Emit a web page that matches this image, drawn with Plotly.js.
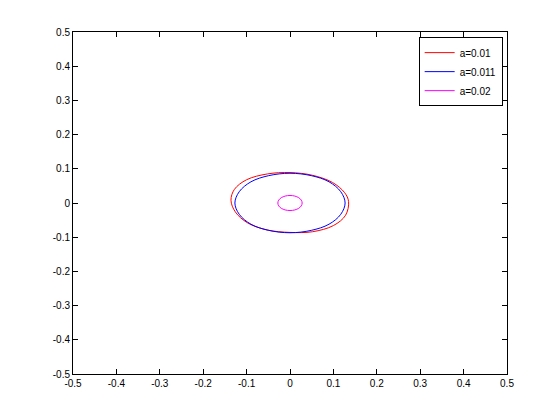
<!DOCTYPE html>
<html>
<head>
<meta charset="utf-8">
<script src="https://cdn.plot.ly/plotly-3.0.1.min.js"></script>
<style>
  body { margin: 0; background: #fff; }
  #plot { width: 560px; height: 420px; }
</style>
</head>
<body>
<div id="plot"></div>
<script>
// curves, one closed loop per value of a
let names = ["a=0.01", "a=0.011", "a=0.02"];
let colors = ["#ff0000", "#0000ff", "#ff00ff"];

let redX = [0.135, 0.126, 0.098, 0.052, 0, -0.052, -0.100, -0.128, -0.136, -0.126, -0.098, -0.052, 0, 0.052, 0.100, 0.128, 0.135];
let redY = [0.004, 0.030, 0.060, 0.081, 0.089, 0.085, 0.068, 0.040, 0.008, -0.026, -0.058, -0.079, -0.086, -0.084, -0.066, -0.036, 0.004];

let blueX = [0.127, 0.117, 0.090, 0.049, 0, -0.049, -0.090, -0.117, -0.127, -0.117, -0.090, -0.049, 0, 0.049, 0.090, 0.117, 0.127];
let blueY = [0, 0.033, 0.062, 0.080, 0.087, 0.080, 0.062, 0.033, 0, -0.033, -0.062, -0.080, -0.087, -0.080, -0.062, -0.033, 0];

let magX = [0.028, 0.026, 0.020, 0.011, 0, -0.011, -0.020, -0.026, -0.028, -0.026, -0.020, -0.011, 0, 0.011, 0.020, 0.026, 0.028];
let magY = [0, 0.0085, 0.0156, 0.0203, 0.022, 0.0203, 0.0156, 0.0085, 0, -0.0085, -0.0156, -0.0203, -0.022, -0.0203, -0.0156, -0.0085, 0];

let tickVals = [-0.5, -0.4, -0.3, -0.2, -0.1, 0, 0.1, 0.2, 0.3, 0.4, 0.5];
let tickText = ["-0.5", "-0.4", "-0.3", "-0.2", "-0.1", "0", "0.1", "0.2", "0.3", "0.4", "0.5"];

let xs = [redX, blueX, magX];
let ys = [redY, blueY, magY];

let traces = [];
for (let i = 0; i < names.length; i++) {
    traces.push({
        x: xs[i],
        y: ys[i],
        name: names[i],
        mode: 'lines',
        line: {color: colors[i], width: 1, shape: 'spline', smoothing: 1}
    });
}

let axisStyle = {
    range: [-0.5, 0.5],
    tickvals: tickVals,
    ticktext: tickText,
    ticks: 'inside',
    ticklen: 5,
    tickcolor: '#000',
    showline: true,
    linecolor: '#000',
    linewidth: 1,
    mirror: 'ticks',
    showgrid: false,
    zeroline: false,
    tickfont: {family: 'Liberation Sans, Arial, sans-serif', size: 10, color: '#000'}
};

let layout = {
    width: 560,
    height: 420,
    margin: {l: 73, r: 53, t: 32, b: 46, pad: 0},
    paper_bgcolor: '#fff',
    plot_bgcolor: '#fff',
    showlegend: true,
    xaxis: Object.assign({}, axisStyle),
    yaxis: Object.assign({}, axisStyle),
    legend: {
        x: 0.99, y: 0.985,
        xanchor: 'right', yanchor: 'top',
        bgcolor: '#fff',
        bordercolor: '#000',
        borderwidth: 1,
        itemwidth: 30,
        tracegroupgap: 0,
        font: {family: 'Liberation Sans, Arial, sans-serif', size: 10, color: '#000'}
    }
};

Plotly.newPlot('plot', traces, layout, {staticPlot: true});
</script>
</body>
</html>
